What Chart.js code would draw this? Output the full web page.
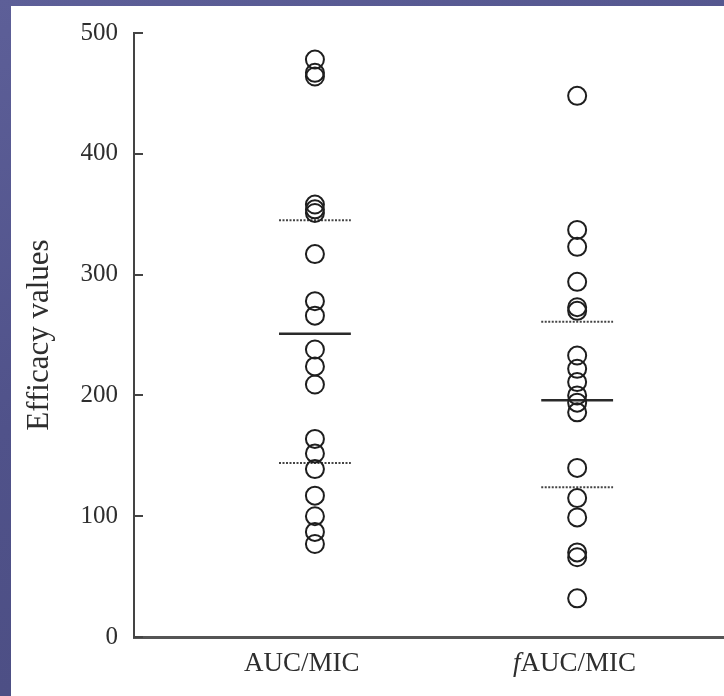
<!DOCTYPE html>
<html>
<head>
<meta charset="utf-8">
<script src="https://cdn.jsdelivr.net/npm/chart.js@4.4.1/dist/chart.umd.min.js"></script>
<style>
  html, body {
    margin: 0;
    padding: 0;
    width: 724px;
    height: 696px;
    overflow: hidden;
    background: linear-gradient(160deg, #5d5f98 0%, #50528a 45%, #4a4c80 100%);
  }
  #wrap {
    position: relative;
    width: 724px;
    height: 696px;
  }
</style>
</head>
<body>
<div id="wrap"><canvas id="chart" width="724" height="696"></canvas></div>
<script>
// 数据
const groups = ['AUC/MIC', 'fAUC/MIC'];
const groupPos = [1, 2];
const labelPos = [0.95, 1.99];
const aucMic = [478, 467, 464, 358, 354, 351, 317, 278, 266, 238, 224, 209, 164, 152, 139, 117, 100, 87, 77];
const fAucMic = [448, 337, 323, 294, 273, 270, 233, 222, 211, 200, 194, 186, 140, 115, 99, 70, 66, 32];
const medians = [251, 196];
const q1 = [144, 124];
const q3 = [345, 261];
const yTicks = [0, 100, 200, 300, 400, 500];

const serif = '"Liberation Serif", "DejaVu Serif", serif';
const halfW = 0.137;

function points(pos, values) {
  return values.map(v => ({ x: pos, y: v }));
}

function hLine(values, i) {
  return [
    { x: groupPos[i] - halfW, y: values[i] },
    { x: groupPos[i] + halfW, y: values[i] }
  ];
}

const datasets = [
  {
    type: 'scatter',
    data: points(groupPos[0], aucMic),
    pointRadius: 9,
    pointBorderWidth: 2,
    borderColor: '#1e1e1e',
    backgroundColor: 'rgba(0,0,0,0)'
  },
  {
    type: 'scatter',
    data: points(groupPos[1], fAucMic),
    pointRadius: 9,
    pointBorderWidth: 2,
    borderColor: '#1e1e1e',
    backgroundColor: 'rgba(0,0,0,0)'
  }
];

// 中位数 + 四分位线
groups.forEach((g, i) => {
  datasets.push({
    type: 'line',
    data: hLine(medians, i),
    borderColor: '#2a2a2a',
    borderWidth: 2.5,
    pointRadius: 0
  });
  [q1, q3].forEach(q => {
    datasets.push({
      type: 'line',
      data: hLine(q, i),
      borderColor: '#444',
      borderWidth: 2,
      borderDash: [2, 1.5],
      pointRadius: 0
    });
  });
});

// 白色面板
const panel = {
  id: 'panel',
  beforeDraw(chart) {
    const ctx = chart.ctx;
    ctx.save();
    ctx.fillStyle = '#ffffff';
    ctx.fillRect(11, 6, chart.width - 11, chart.height - 6);
    ctx.restore();
  }
};

// 向内的刻度线 + x轴标签 (f 斜体)
const extras = {
  id: 'extras',
  afterDraw(chart) {
    const ctx = chart.ctx;
    const y = chart.scales.y;
    const x = chart.scales.x;
    ctx.save();
    ctx.strokeStyle = '#444';
    ctx.lineWidth = 2;
    y.ticks.forEach(t => {
      const py = Math.round(y.getPixelForValue(t.value));
      ctx.beginPath();
      ctx.moveTo(chart.chartArea.left, py);
      ctx.lineTo(chart.chartArea.left + 9, py);
      ctx.stroke();
    });

    ctx.fillStyle = '#2e2e2e';
    ctx.textBaseline = 'middle';
    ctx.textAlign = 'left';
    groups.forEach((g, i) => {
      const parts = g.charAt(0) === 'f'
        ? [{ t: 'f', font: 'italic 27px ' + serif }, { t: g.slice(1), font: '27px ' + serif }]
        : [{ t: g, font: '27px ' + serif }];
      let w = 0;
      parts.forEach(p => { ctx.font = p.font; w += ctx.measureText(p.t).width; });
      let px = x.getPixelForValue(labelPos[i]) - w / 2;
      parts.forEach(p => {
        ctx.font = p.font;
        ctx.fillText(p.t, px, 664);
        px += ctx.measureText(p.t).width;
      });
    });
    ctx.restore();
  }
};

new Chart(document.getElementById('chart'), {
  data: { datasets },
  options: {
    responsive: false,
    animation: false,
    clip: false,
    layout: { autoPadding: false, padding: { left: 11, top: 33, right: 0, bottom: 0 } },
    plugins: {
      legend: { display: false },
      tooltip: { enabled: false }
    },
    scales: {
      x: {
        type: 'linear',
        min: 0.31,
        max: 2.56,
        grid: { display: false, drawTicks: false },
        border: { display: true, color: '#555', width: 3 },
        ticks: { display: false },
        afterFit(scale) { scale.height = 59; }
      },
      y: {
        min: 0,
        max: 500,
        afterBuildTicks(scale) {
          scale.ticks = yTicks.map(v => ({ value: v }));
        },
        grid: { display: false, drawTicks: false },
        border: { display: true, color: '#444', width: 2 },
        ticks: {
          padding: 16,
          color: '#2e2e2e',
          font: { family: serif, size: 25 }
        },
        title: {
          display: true,
          text: 'Efficacy values',
          color: '#2e2e2e',
          font: { family: serif, size: 31 },
          padding: { top: 10, bottom: 0 }
        },
        afterFit(scale) { scale.width = 123; }
      }
    }
  },
  plugins: [panel, extras]
});
</script>
</body>
</html>
